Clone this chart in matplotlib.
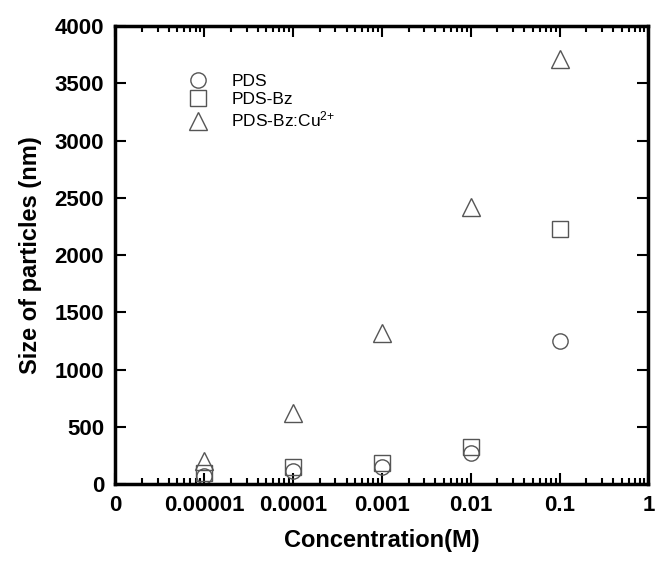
import matplotlib
matplotlib.use("Agg")
import matplotlib.pyplot as plt # plotting
import matplotlib.ticker as ticker
import numpy as np

plt.rcParams['font.family'] = ['Liberation Sans', 'DejaVu Sans']
plt.rcParams['mathtext.default'] = 'regular'

# Data
conc = [1e-5, 1e-4, 1e-3, 1e-2, 1e-1]
pds = [70, 113, 150, 270, 1250]
pds_bz = [100, 150, 183, 325, 2230]
pds_bz_cu = [200, 625, 1320, 2420, 3710]

tick_pos = [1e-6, 1e-5, 1e-4, 1e-3, 1e-2, 1e-1, 1]
tick_labels = ['0', '0.00001', '0.0001', '0.001', '0.01', '0.1', '1']

fig = plt.figure(figsize=(6.55, 5.65), dpi=100)
ax = fig.add_axes([0.176, 0.143, 0.814, 0.811])

mk = dict(linestyle='none', markerfacecolor='none', markeredgecolor='#555555', markeredgewidth=1.0)
ax.plot(conc, pds, marker='o', markersize=11, label='PDS', **mk)
ax.plot(conc, pds_bz, marker='s', markersize=11, label='PDS-Bz', **mk)
ax.plot(conc, pds_bz_cu, marker='^', markersize=13, label=r'PDS-Bz:Cu$^{2{+}}$', **mk)

ax.set_xscale('log')
ax.set_xlim(1e-6, 1)
ax.set_ylim(0, 4000)
ax.xaxis.set_major_locator(ticker.FixedLocator(tick_pos))
ax.xaxis.set_major_formatter(ticker.FixedFormatter(tick_labels))
ax.xaxis.set_minor_locator(ticker.LogLocator(base=10, subs=np.arange(2, 10), numticks=20))
ax.xaxis.set_minor_formatter(ticker.NullFormatter())
ax.yaxis.set_major_locator(ticker.MultipleLocator(500))

ax.tick_params(which='both', direction='in', top=True, right=True, width=1.5)
ax.tick_params(which='major', length=8, labelsize=16, pad=8)
ax.tick_params(which='minor', length=4)
for lab in ax.get_xticklabels() + ax.get_yticklabels():
    lab.set_fontweight('bold')
for s in ax.spines.values():
    s.set_linewidth(2.5)

ax.set_xlabel('Concentration(M)', fontsize=17, fontweight='bold', labelpad=9)
ax.set_ylabel('Size of particles (nm)', fontsize=17, fontweight='bold', labelpad=9)

ax.legend(loc='upper left', bbox_to_anchor=(0.11, 0.91), frameon=False, fontsize=12.5,
          handletextpad=0.9, labelspacing=0.15, borderaxespad=0)

fig.savefig('out.png', dpi=100)
